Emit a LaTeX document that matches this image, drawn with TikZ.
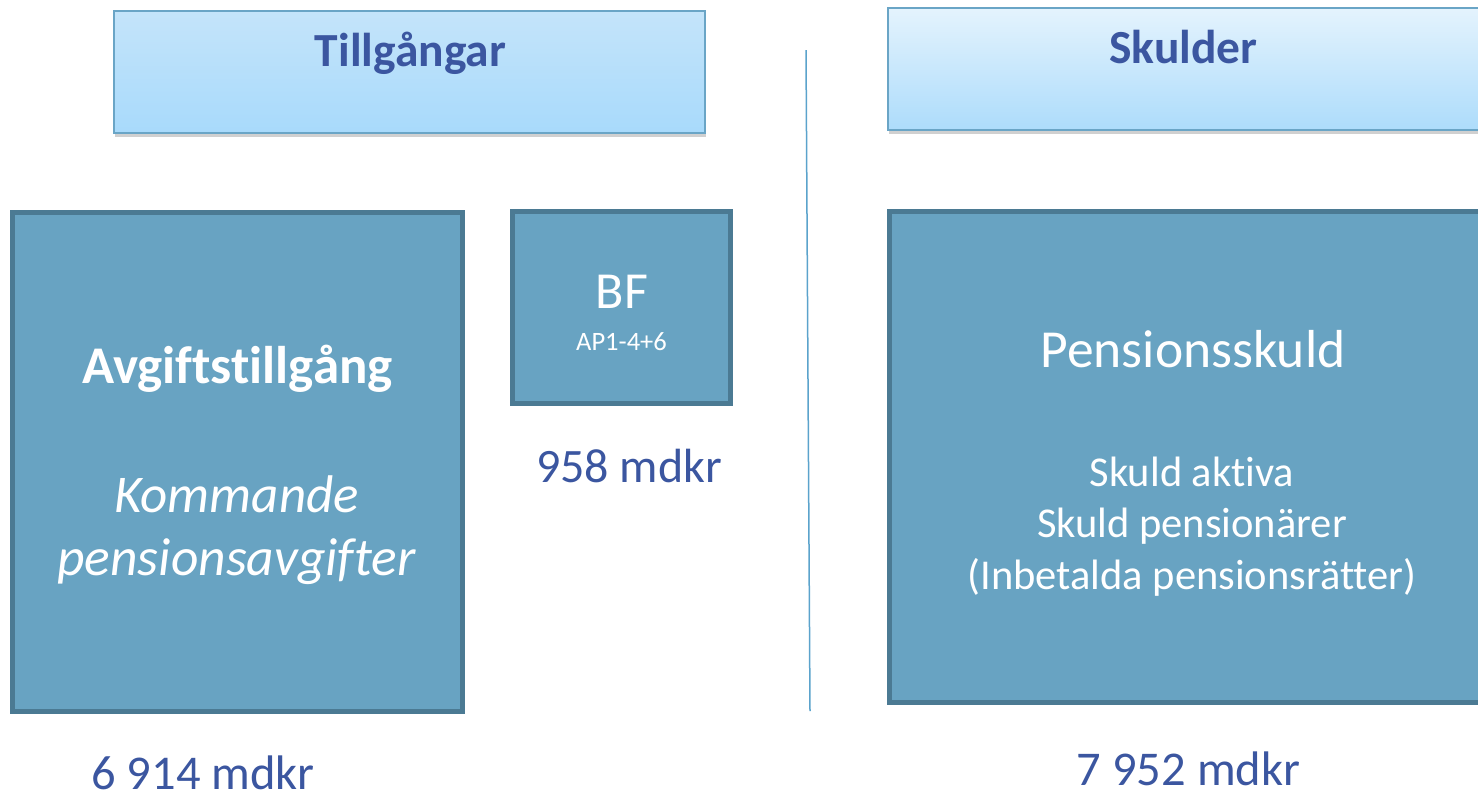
\documentclass[tikz,border=0pt]{standalone}
\usepackage{fontspec}
\setmainfont[Ligatures=NoCommon]{Carlito}
\usetikzlibrary{shadows}
\definecolor{boxfill}{HTML}{68A3C2}
\definecolor{boxline}{HTML}{4B7A93}
\definecolor{txtblue}{HTML}{3B56A0}
\definecolor{hdrline}{HTML}{6AA5C6}
\definecolor{sepline}{HTML}{5BA3CC}
\definecolor{hlTop}{HTML}{C4E4FA}
\definecolor{hlBot}{HTML}{A8DAFB}
\definecolor{hrTop}{HTML}{E4F3FD}
\definecolor{hrBot}{HTML}{ADDCFB}
\begin{document}
\begin{tikzpicture}[x=1pt,y=-1pt,
  hdr/.style={draw=hdrline, line width=2pt, anchor=north west, inner sep=0pt, outer sep=0pt,
    drop shadow={shadow xshift=1pt, shadow yshift=-4pt, opacity=0.3, fill=black!60}},
  bigbox/.style={draw=boxline, fill=boxfill, line width=5pt, anchor=north west, inner sep=0pt, outer sep=0pt},
  hdrtxt/.style={text=txtblue, anchor=base, inner sep=0pt, font=\fontsize{47.5}{57}\selectfont\bfseries},
  wtxt/.style={text=white, anchor=base, inner sep=0pt},
  amount/.style={text=txtblue, anchor=base, inner sep=0pt}]
\useasboundingbox (0,0) rectangle (1478,796);
\fill[white] (0,0) rectangle (1478,796);
% headers
\node[hdr, top color=hlTop, bottom color=hlBot,
  minimum width=591pt, minimum height=122pt] (hl) at (114,11) {};
\node[hdr, top color=hrTop, bottom color=hrBot,
  minimum width=600pt, minimum height=122pt] (hr) at (888,8) {};
\node[hdrtxt] (hlt) at (410.5,66) {Tillgångar};
\node[hdrtxt] (hrt) at (1183.5,63) {Skulder};
% separator
\coordinate (s1) at (806,50);
\coordinate (s2) at (810,711);
\draw[sepline, line width=1.5pt] (s1) -- (s2);
% boxes
\node[bigbox, minimum width=450pt, minimum height=499pt] (avg) at (12.5,212.5) {};
\node[bigbox, minimum width=218pt, minimum height=192pt] (bf) at (512.5,211.5) {};
\node[bigbox, minimum width=600pt, minimum height=491pt] (ps) at (889.5,211.5) {};
% texts
\node[wtxt, font=\fontsize{53}{60}\selectfont\bfseries] (avgt) at (237.5,383) {Avgiftstillgång};
\node[wtxt, font=\fontsize{53}{60}\selectfont\itshape] (avgk1) at (236.5,512) {Kommande};
\node[wtxt, font=\fontsize{53.5}{60}\selectfont\itshape] (avgk2) at (236.5,575) {pensionsavgifter};
\node[wtxt, font=\fontsize{52}{60}\selectfont] (bft) at (622,308) {BF};
\node[wtxt, font=\fontsize{26.5}{30}\selectfont] (bfs) at (621.5,350) {AP1-4+6};
\node[wtxt, font=\fontsize{53.5}{60}\selectfont] (pst) at (1193,367) {Pensionsskuld};
\node[wtxt, font=\fontsize{42.5}{50}\selectfont] (psd1) at (1192,486) {Skuld aktiva};
\node[wtxt, font=\fontsize{42.5}{50}\selectfont] (psd2) at (1192,537) {Skuld pensionärer};
\node[wtxt, font=\fontsize{42.5}{50}\selectfont] (psd3) at (1192,589) {(Inbetalda pensionsrätter)};
\node[amount, font=\fontsize{48}{56}\selectfont] (a1) at (629,482) {958 mdkr};
\node[amount, font=\fontsize{48.5}{56}\selectfont] (a2) at (203,789) {6 914 mdkr};
\node[amount, font=\fontsize{48.5}{56}\selectfont] (a3) at (1188.5,785) {7 952 mdkr};
\end{tikzpicture}
\end{document}
